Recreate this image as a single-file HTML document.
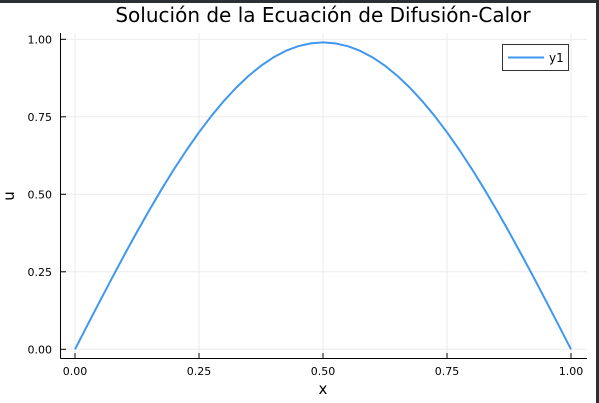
<!DOCTYPE html>
<html><head><meta charset="utf-8"><style>
body{margin:0;background:#fff;overflow:hidden}
svg{display:block;font-family:"DejaVu Sans","Liberation Sans",sans-serif}
</style></head><body>
<svg width="599" height="403">
<rect x="0" y="0" width="599" height="3" fill="#2b2f36"/>
<rect x="596" y="0" width="3" height="403" fill="#2b2f36"/>
<text x="323" y="22" font-size="20" text-anchor="middle" fill="#000">Solución de la Ecuación de Difusión-Calor</text>
<g id="grid"></g>
<g id="axes"></g>
<polyline id="curve" fill="none" stroke="#3f97ef" stroke-width="2" stroke-linejoin="round"/>
<g>
<rect x="502.5" y="44.5" width="66" height="26" fill="#fff" stroke="#333" stroke-width="1"/>
<line x1="508" y1="57.5" x2="544" y2="57.5" stroke="#3f97ef" stroke-width="2"/>
<text x="549" y="62" font-size="12" fill="#000">y1</text>
</g>
<text x="323" y="394" font-size="15" text-anchor="middle">x</text>
<text transform="translate(14,196) rotate(-90)" font-size="15" text-anchor="middle">u</text>
</svg>
<script>
const xs=[0,0.025,0.05,0.075,0.1,0.125,0.15,0.175,0.2,0.225,0.25,0.275,0.3,0.325,0.35,0.375,0.4,0.425,0.45,0.475,0.5,0.525,0.55,0.575,0.6,0.625,0.65,0.675,0.7,0.725,0.75,0.775,0.8,0.825,0.85,0.875,0.9,0.925,0.95,0.975,1];
const us=[0,0.0777,0.1548,0.2311,0.3059,0.3789,0.4495,0.5173,0.5819,0.6429,0.7000,0.7528,0.8009,0.8441,0.8821,0.9147,0.9416,0.9627,0.9778,0.9869,0.99,0.9869,0.9778,0.9627,0.9416,0.9147,0.8821,0.8441,0.8009,0.7528,0.7000,0.6429,0.5819,0.5173,0.4495,0.3789,0.3059,0.2311,0.1548,0.0777,0];
const xTicks=[0,0.25,0.5,0.75,1];
const xTickLabels=["0.00","0.25","0.50","0.75","1.00"];
const yTicks=[0,0.25,0.5,0.75,1];
const yTickLabels=["0.00","0.25","0.50","0.75","1.00"];
const X=v=>75+v*496, Y=v=>349.3-v*310;
const ns="http://www.w3.org/2000/svg";
const grid=document.getElementById('grid'), axes=document.getElementById('axes');
function mk(tag,attrs,parent,txt){const e=document.createElementNS(ns,tag);for(const k in attrs)e.setAttribute(k,attrs[k]);if(txt!==undefined)e.textContent=txt;parent.appendChild(e);return e;}
xTicks.forEach((t,i)=>{
 const g=mk('line',{x1:X(t),x2:X(t),y1:33,y2:358,stroke:'#ebebeb','stroke-width':1},grid);
 
 
 const tk=mk('line',{x1:X(t),x2:X(t),y1:358,y2:353,stroke:'#000','stroke-width':1},axes);
 
 
 const l=mk('text',{x:X(t),y:375,'font-size':11,'text-anchor':'middle'},axes,xTickLabels[i]);
 
 
});
yTicks.forEach((t,i)=>{
 const g=mk('line',{x1:61,x2:587,y1:Y(t),y2:Y(t),stroke:'#ebebeb','stroke-width':1},grid);
 
 
 const tk=mk('line',{x1:61,x2:66,y1:Y(t),y2:Y(t),stroke:'#000','stroke-width':1},axes);
 
 
 const l=mk('text',{x:52,y:Y(t)+4,'font-size':11,'text-anchor':'end'},axes,yTickLabels[i]);
 
 
});
const ya=mk('line',{x1:60.5,x2:60.5,y1:33,y2:358.5,stroke:'#000','stroke-width':1},axes);


const xa=mk('line',{x1:60.5,x2:587,y1:358.5,y2:358.5,stroke:'#000','stroke-width':1},axes);


document.getElementById('curve').setAttribute('points',xs.map((x,i)=>X(x)+','+Y(us[i])).join(' '));
</script>
</body></html>
